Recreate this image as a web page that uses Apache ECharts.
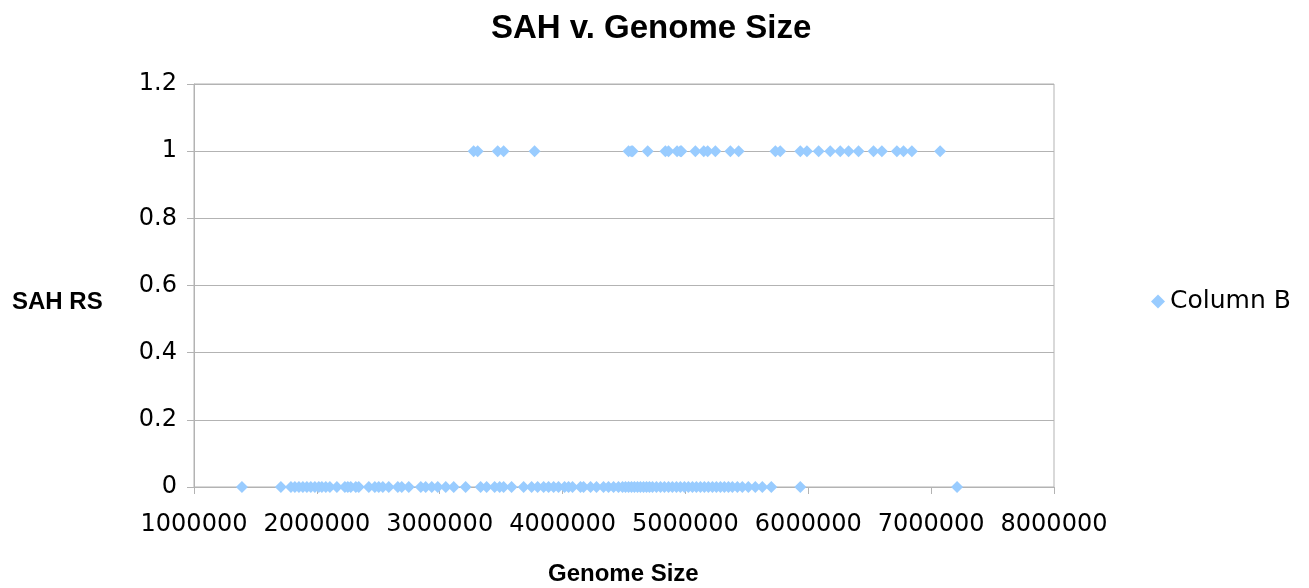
<!DOCTYPE html>
<html>
<head>
<meta charset="utf-8">
<script src="https://cdn.jsdelivr.net/npm/echarts@6/dist/echarts.min.js"></script>
<style>html,body{margin:0;padding:0;background:#fff}#c{width:1309px;height:588px}</style>
</head>
<body>
<div id="c"></div>
<script>
// Genome sizes with SAH RS = 1
const genomeSah1 = [3276000, 3309000, 3472000, 3520000, 3772000,
  4537000, 4559000, 4570000, 4693000, 4837000, 4862000, 4932000, 4959000, 4967000,
  5081000, 5149000, 5181000, 5244000, 5366000, 5433000, 5732000, 5772000,
  5935000, 5989000, 6084000, 6179000, 6260000, 6328000, 6409000, 6531000,
  6599000, 6721000, 6775000, 6843000, 7073000];
// Genome sizes with SAH RS = 0
const genomeSah0 = [1390000, 1707000, 1789000, 1821000, 1854000, 1886000, 1919000, 1951000,
  1984000, 2016000, 2041000, 2073000, 2106000, 2163000, 2228000, 2252000, 2276000,
  2317000, 2341000, 2423000, 2472000, 2504000, 2537000, 2585000, 2659000, 2691000,
  2748000, 2846000, 2886000, 2935000, 2984000, 3049000, 3114000, 3211000, 3333000,
  3382000, 3447000, 3488000, 3520000, 3585000, 3683000, 3748000, 3797000, 3846000,
  3886000, 3927000, 3967000, 4016000, 4049000, 4081000, 4146000, 4171000, 4228000,
  4276000, 4333000, 4374000, 4415000, 4455000, 4488000, 4512000, 4537000, 4561000,
  4585000, 4610000, 4634000, 4659000, 4683000, 4707000, 4732000, 4764000, 4797000,
  4829000, 4862000, 4894000, 4927000, 4959000, 4992000, 5024000, 5057000, 5089000,
  5122000, 5154000, 5187000, 5220000, 5252000, 5285000, 5317000, 5350000, 5382000,
  5423000, 5463000, 5512000, 5569000, 5626000, 5699000, 5935000, 7211000];
const seriesName = 'Column B';
const xTicks = [1000000, 8000000, 1000000]; // min, max, interval
const yTicks = [0, 1.2, 0.2];

const data = genomeSah1.map(g => [g, 1]).concat(genomeSah0.map(g => [g, 0]));
const chart = echarts.init(document.getElementById('c'), null, {renderer: 'canvas'});
const gray = '#b3b3b3';
const tickFont = 'DejaVu Sans';
chart.setOption({
  animation: false,
  backgroundColor: '#fff',
  title: {
    text: 'SAH v. Genome Size', left: 486, top: 7,
    textStyle: {fontFamily: 'Liberation Sans', fontWeight: 'bold', fontSize: 33, color: '#000'}
  },
  legend: {
    data: [{name: seriesName, icon: 'diamond'}],
    left: 1146, top: 284, orient: 'vertical',
    itemWidth: 14, itemHeight: 14, itemGap: 8,
    textStyle: {fontFamily: tickFont, fontSize: 25, color: '#000'}
  },
  grid: {left: 194, right: 255, top: 84, bottom: 101, show: true, borderColor: gray, borderWidth: 1},
  xAxis: {
    type: 'value', min: xTicks[0], max: xTicks[1], interval: xTicks[2],
    axisLine: {show: true, lineStyle: {color: gray}},
    axisTick: {show: true, inside: false, length: 7, lineStyle: {color: gray}},
    splitLine: {show: false},
    axisLabel: {fontFamily: tickFont, fontSize: 24, color: '#000', margin: 26, formatter: v => String(v)}
  },
  yAxis: {
    type: 'value', min: yTicks[0], max: yTicks[1], interval: yTicks[2],
    axisLine: {show: true, lineStyle: {color: gray}},
    axisTick: {show: true, inside: false, length: 7, lineStyle: {color: gray}},
    splitLine: {show: true, lineStyle: {color: gray}},
    axisLabel: {fontFamily: tickFont, fontSize: 24, color: '#000', margin: 17,
      formatter: v => String(Math.round(v * 10) / 10)}
  },
  graphic: [
    {type: 'text', left: 12, top: 290, style: {text: 'SAH RS', fontFamily: 'Liberation Sans', fontWeight: 'bold', fontSize: 24, fill: '#000'}},
    {type: 'text', left: 548, top: 562, style: {text: 'Genome Size', fontFamily: 'Liberation Sans', fontWeight: 'bold', fontSize: 24, fill: '#000'}}
  ],
  series: [{
    name: seriesName, type: 'scatter', symbol: 'diamond', symbolSize: 12,
    itemStyle: {color: '#99ccff', opacity: 1}, data: data
  }]
});
</script>
</body>
</html>
